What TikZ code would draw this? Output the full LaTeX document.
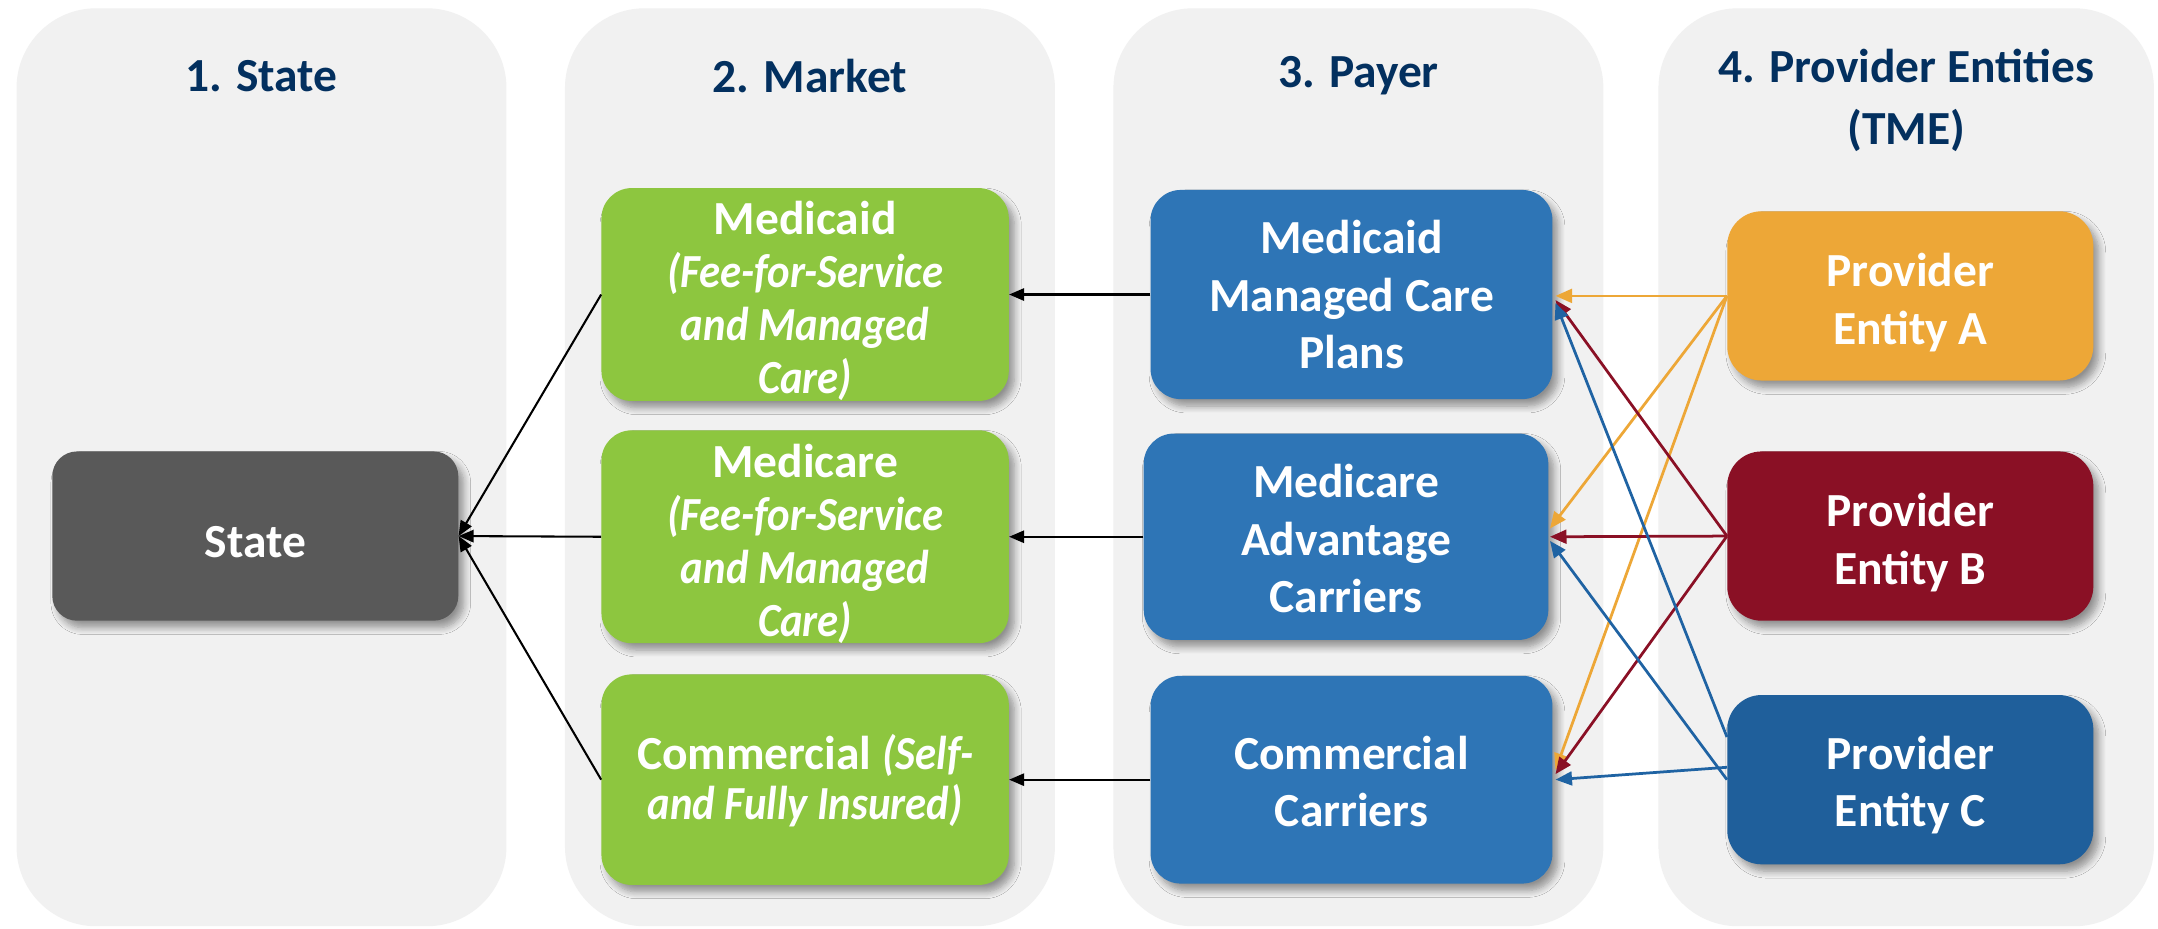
\documentclass[tikz,border=0pt]{standalone}
\usepackage{fontspec}
\setmainfont{Carlito}
\newfontfamily\itcond{Carlito}[FakeStretch=0.9]
\newcommand\ci[1]{{\itcond\bfseries\itshape #1}}
\newcommand\dn[1]{\rule{0pt}{#1}}
\usetikzlibrary{arrows.meta,shadows,shadows.blur}
\definecolor{panelbg}{HTML}{F1F1F1}
\definecolor{headblue}{HTML}{03305F}
\definecolor{stategray}{HTML}{595959}
\definecolor{mktgreen}{HTML}{8DC63F}
\definecolor{payblue}{HTML}{2E75B6}
\definecolor{provA}{HTML}{EDA737}
\definecolor{provB}{HTML}{8A1025}
\definecolor{provC}{HTML}{1F5F9B}
\definecolor{lineC}{HTML}{1F63A3}
\begin{document}
\begin{tikzpicture}[x=1pt,y=-1pt,
  panel/.style={fill=panelbg, draw=none, rounded corners=58pt, minimum width=356pt, minimum height=667pt, inner sep=0pt},
  head/.style={text=headblue, font=\fontsize{34.5}{45}\selectfont\bfseries, align=center, inner sep=0pt},
  box/.style={rounded corners=22pt, text=white, align=center, inner sep=0pt, draw=none,
    font=\fontsize{34.5}{42}\selectfont\bfseries,
    blur shadow={shadow xshift=4pt, shadow yshift=-5pt, shadow blur steps=8, shadow blur radius=5pt, shadow opacity=40}},
  greenbox/.style={box, fill=mktgreen, minimum width=296pt, minimum height=154pt, font=\fontsize{34.5}{38.5}\selectfont\bfseries},
  bluebox/.style={box, fill=payblue, minimum width=292pt, minimum height=152pt},
  provbox/.style={box, minimum width=266pt, minimum height=123pt, rounded corners=25pt},
  blk/.style={draw=black, line width=1.5pt, -{Triangle[length=11pt,width=9pt]}},
  oline/.style={draw=provA, line width=2pt, -{Triangle[length=12pt,width=10pt]}},
  rline/.style={draw=provB, line width=2pt, -{Triangle[length=12pt,width=10pt]}},
  cline/.style={draw=lineC, line width=2pt, -{Triangle[length=12pt,width=10pt]}}
]
\useasboundingbox (0,0) rectangle (1568,675);
\fill[white] (0,0) rectangle (1568,675);
% panels
\node[panel] (p1) at (190,339.5) {};
\node[panel] (p2) at (588.5,339.5) {};
\node[panel] (p3) at (987,339.5) {};
\node[panel, minimum width=360pt] (p4) at (1385,339.5) {};
% headings
\node[head] (h1) at (190,55) {1. State};
\node[head] (h2) at (588.5,55) {2. Market};
\node[head] (h3) at (987,55) {3. Payer};
\node[head] (h4) at (1385,73) {4. Provider Entities\\(TME)};
% state
\node[box, fill=stategray, minimum width=295pt, minimum height=123pt, rounded corners=18pt] (state) at (185.5,389.5) {\dn{31pt}State};
% market
\node[greenbox] (gr1) at (585,214) {\dn{34pt}Medicaid\\\ci{(Fee-for-Service}\\\ci{and Managed}\\\ci{Care)}};
\node[greenbox] (gr2) at (585,390) {\dn{34pt}Medicare\\\ci{(Fee-for-Service}\\\ci{and Managed}\\\ci{Care)}};
\node[greenbox, minimum height=153pt, font=\fontsize{34.5}{36.8}\selectfont\bfseries] (gr3) at (585,566.5) {\dn{27pt}Commercial \ci{(Self-}\\\ci{and Fully Insured)}};
% payer
\node[bluebox] (bl1) at (982,214) {Medicaid\\Managed Care\\Plans};
\node[bluebox, minimum width=294pt, minimum height=150pt] (bl2) at (978,390) {\dn{27pt}Medicare\\Advantage\\Carriers};
\node[bluebox, minimum height=151pt] (bl3) at (982,566.5) {\dn{27pt}Commercial\\Carriers};
% providers
\node[provbox, fill=provA] (pa) at (1388,215) {\dn{34pt}Provider\\Entity A};
\node[provbox, fill=provB] (pb) at (1388,389.5) {\dn{34pt}Provider\\Entity B};
\node[provbox, fill=provC] (pc) at (1388,566.5) {\dn{32pt}Provider\\Entity C};
% black connectors
\draw[blk] (gr1.west) -- (state.east);
\draw[blk] (gr2.west) -- (state.east);
\draw[blk] (gr3.west) -- (state.east);
\draw[blk] (bl1.west) -- (gr1.east);
\draw[blk] (bl2.west) -- (gr2.east);
\draw[blk] (bl3.west) -- (gr3.east);
% provider connectors
\draw[oline] (pa.west) -- ([xshift=2pt,yshift=-1pt]bl1.east);
\draw[oline] (pa.west) -- ([xshift=1pt,yshift=6pt]bl2.east);
\draw[oline] (pa.west) -- ([xshift=2pt,yshift=7pt]bl3.east);
\draw[rline] (pb.west) -- ([xshift=2pt,yshift=-4pt]bl1.east);
\draw[rline] (pb.west) -- ([xshift=1pt]bl2.east);
\draw[rline] (pb.west) -- ([xshift=2pt,yshift=4pt]bl3.east);
\draw[cline] ([yshift=31pt]pc.west) -- ([xshift=2pt,yshift=-6pt]bl1.east);
\draw[cline] (pc.west) -- ([xshift=1pt,yshift=-3pt]bl2.east);
\draw[cline] ([yshift=9pt]pc.west) -- ([xshift=2pt]bl3.east);
\end{tikzpicture}
\end{document}
